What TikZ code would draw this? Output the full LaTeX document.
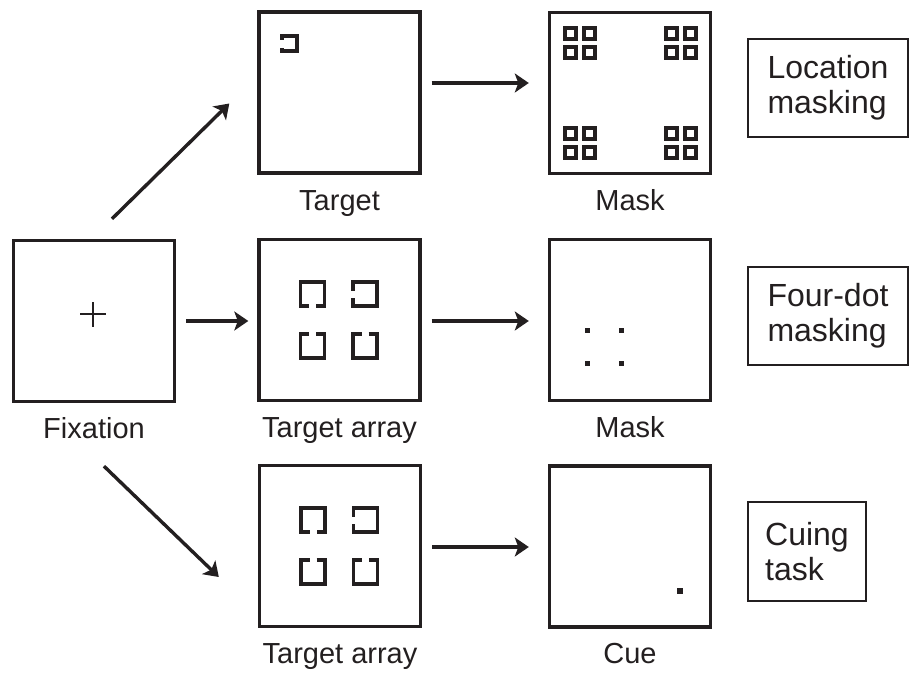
\documentclass[tikz,border=0pt]{standalone}
\usepackage{fontspec}
\setmainfont{Liberation Sans}
\usetikzlibrary{arrows.meta,calc}
\definecolor{ink}{HTML}{231F20}

% open square bracket: centre x, centre y, half side, half gap, rotation
% (rotation 0 = opening at the bottom)
\newcommand\brkt[5]{%
  \draw[ink, line width=3.2pt, shift={(#1,#2)}, rotate=#5]
    (-#4,#3) -- (-#3,#3) -- (-#3,-#3) -- (#3,-#3) -- (#3,#3) -- (#4,#3);}
% small outlined square of the location mask (top-left corner x, y)
\newcommand\msq[2]{%
  \draw[ink, line width=3.6pt] (#1+1.8,#2+1.8) rectangle (#1+13.2,#2+13.2);}
% 2x2 cluster of mask squares (top-left corner x, y)
\newcommand\mcluster[2]{%
  \msq{#1}{#2}\msq{#1+19}{#2}\msq{#1}{#2+19}\msq{#1+19}{#2+19}}
% filled dot (centre x, y, half size)
\newcommand\sdot[3]{%
  \fill[ink] (#1-#3,#2-#3) rectangle (#1+#3,#2+#3);}

\tikzset{
  screen/.style={draw=ink, line width=3.4pt, minimum width=161pt,
    minimum height=161pt, inner sep=0pt},
  caption/.style={font=\fontsize{29}{34}\selectfont, text=ink, anchor=base,
    inner sep=0pt},
  lbox/.style={draw=ink, line width=2pt, font=\fontsize{32}{35}\selectfont,
    text=ink, align=left, inner sep=0pt},
  arr/.style={draw=ink, line width=3.4pt,
    -{Stealth[length=14pt, width=19pt, inset=3.5pt]}},
}

\begin{document}
\begin{tikzpicture}[x=1pt, y=-1pt]
\useasboundingbox (0,0) rectangle (911,675);

% screens
\node[screen] (fix)   at (94,321)    {};
\node[screen] (tgt)   at (339.5,92.5) {};
\node[screen] (mask1) at (630,93)    {};
\node[screen] (tarr1) at (339.5,320) {};
\node[screen] (mask2) at (630,320)   {};
\node[screen] (tarr2) at (340,546)   {};
\node[screen] (cue)   at (630,546.5) {};

% captions under the screens
\node[caption] (lfix)   at ($(fix.south)+(0,35.5)$)   {Fixation};
\node[caption] (ltgt)   at ($(tgt.south)+(0,35.5)$)   {Target};
\node[caption] (lmask1) at ($(mask1.south)+(0,35)$)   {Mask};
\node[caption] (ltarr1) at ($(tarr1.south)+(0,35.5)$) {Target array};
\node[caption] (lmask2) at ($(mask2.south)+(0,35)$)   {Mask};
\node[caption] (ltarr2) at ($(tarr2.south)+(0,35.5)$) {Target array};
\node[caption] (lcue)   at ($(cue.south)+(0,35)$)     {Cue};

% fixation cross
\draw[ink, line width=2pt] (80,314) -- (106,314) (93,302) -- (93,327);

% single target
\brkt{289.5}{43.5}{7.5}{4}{-90}

% location mask
\mcluster{563}{26}\mcluster{664}{26}\mcluster{563}{126}\mcluster{664}{126}

% target arrays
\foreach \cx/\cy in {339.5/320, 340/546}{
  \brkt{\cx-27}{\cy-26}{12}{3.5}{0}
  \brkt{\cx+25.5}{\cy-26}{12}{3.5}{-90}
  \brkt{\cx-27}{\cy+26}{12}{3.5}{180}
  \brkt{\cx+25.5}{\cy+26}{12}{3.5}{180}
}

% four-dot mask
\sdot{587}{330}{2.5}\sdot{621}{330}{2.5}
\sdot{587}{363}{2.5}\sdot{621}{363}{2.5}

% cue
\sdot{680}{591}{3.4}

% task labels
\node[lbox, minimum width=160pt, minimum height=98pt] (tloc)  at (828,88)
  {Location\\masking};
\node[lbox, minimum width=160pt, minimum height=98pt] (tfour) at (828,316)
  {Four-dot\\masking};
\node[lbox, minimum width=118pt, minimum height=99pt] (tcue)  at (807,551.5)
  {Cuing\\task};

% connectors
\coordinate (up0) at ($(fix.north)+(18,-20)$);
\coordinate (up1) at ($(tgt.west)+(-28,11)$);
\coordinate (dn0) at ($(fix.south)+(10,63)$);
\coordinate (dn1) at ($(tarr2.west)+(-39,31)$);
\draw[arr] (up0) -- (up1);
\draw[arr] (dn0) -- (dn1);
\draw[arr, shorten <=10pt, shorten >=9pt] (fix.east) -- (fix.east -| tarr1.west);

\coordinate (r1s) at ($(tgt.east)+(0,-9.5)$);
\coordinate (r2s) at ($(tarr1.east)+(0,1)$);
\coordinate (r3s) at ($(tarr2.east)+(0,1)$);
\draw[arr, shorten <=10pt, shorten >=19pt] (r1s) -- (r1s -| mask1.west);
\draw[arr, shorten <=10pt, shorten >=19pt] (r2s) -- (r2s -| mask2.west);
\draw[arr, shorten <=10pt, shorten >=19pt] (r3s) -- (r3s -| cue.west);
\end{tikzpicture}
\end{document}
